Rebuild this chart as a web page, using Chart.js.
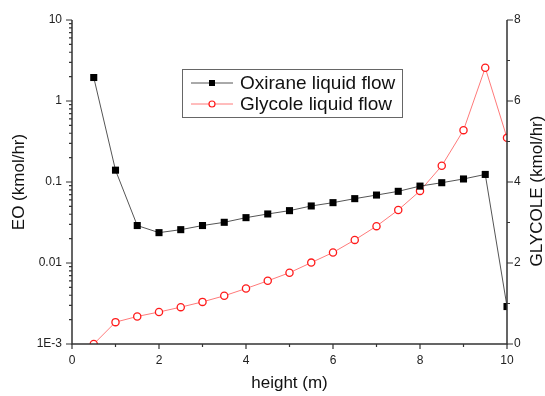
<!DOCTYPE html>
<html>
<head>
<meta charset="utf-8">
<script src="https://cdn.jsdelivr.net/npm/chart.js@4.4.1/dist/chart.umd.min.js"></script>
<style>
  html, body { margin: 0; padding: 0; background: #fff; }
  canvas { display: block; }
</style>
</head>
<body>
<canvas id="flowChart" width="545" height="396"></canvas>
<script>
const heights = [0.5, 1, 1.5, 2, 2.5, 3, 3.5, 4, 4.5, 5, 5.5, 6, 6.5, 7, 7.5, 8, 8.5, 9, 9.5, 10];
const oxirane = [1.95, 0.14, 0.029, 0.0237, 0.0258, 0.029, 0.0318, 0.0363, 0.0403, 0.0443,
  0.0506, 0.0556, 0.0623, 0.069, 0.0767, 0.089, 0.098, 0.109, 0.124, 0.0029];
const glycole = [0, 0.54, 0.68, 0.79, 0.91, 1.04, 1.19, 1.37, 1.56, 1.76,
  2.01, 2.26, 2.57, 2.91, 3.31, 3.78, 4.40, 5.28, 6.82, 5.09];

const xTicks = [0, 2, 4, 6, 8, 10];
const xMinor = [1, 3, 5, 7, 9];
const eoTicks = [0.001, 0.01, 0.1, 1, 10];
const eoLabels = ['1E-3', '0.01', '0.1', '1', '10'];
const glyTicks = [0, 2, 4, 6, 8];
const glyMinor = [1, 3, 5, 7];

const FONT = '"Liberation Sans", Arial, sans-serif';
const AXIS = '#333';

// minor ticks 2..9 inside each decade of the EO axis
const eoMinor = [];
for (let d = 0; d < eoTicks.length - 1; d++) {
  for (let m = 2; m <= 9; m++) eoMinor.push(eoTicks[d] * m);
}

function pts(ys) {
  return heights.map((h, i) => ({ x: h, y: ys[i] }));
}

const axesPlugin = {
  id: 'axesPlugin',
  afterDraw(chart) {
    const { ctx, chartArea: a } = chart;
    const sx = chart.scales.x, sy = chart.scales.y, sy2 = chart.scales.y2;
    ctx.save();
    ctx.strokeStyle = AXIS;
    ctx.lineWidth = 1.5;
    ctx.beginPath();
    ctx.moveTo(a.left, a.top); ctx.lineTo(a.left, a.bottom);
    ctx.lineTo(a.right, a.bottom); ctx.lineTo(a.right, a.top);
    ctx.stroke();

    ctx.lineWidth = 1.2;
    ctx.beginPath();
    xTicks.forEach(v => { const p = sx.getPixelForValue(v); ctx.moveTo(p, a.bottom); ctx.lineTo(p, a.bottom + 5); });
    xMinor.forEach(v => { const p = sx.getPixelForValue(v); ctx.moveTo(p, a.bottom); ctx.lineTo(p, a.bottom + 3); });
    eoTicks.forEach(v => { const p = sy.getPixelForValue(v); ctx.moveTo(a.left, p); ctx.lineTo(a.left - 6, p); });
    eoMinor.forEach(v => { const p = sy.getPixelForValue(v); ctx.moveTo(a.left, p); ctx.lineTo(a.left - 3, p); });
    glyTicks.forEach(v => { const p = sy2.getPixelForValue(v); ctx.moveTo(a.right, p); ctx.lineTo(a.right + 6, p); });
    glyMinor.forEach(v => { const p = sy2.getPixelForValue(v); ctx.moveTo(a.right, p); ctx.lineTo(a.right + 3, p); });
    ctx.stroke();

    // axis titles
    ctx.fillStyle = '#111';
    ctx.font = '17px ' + FONT;
    ctx.textAlign = 'center';
    ctx.textBaseline = 'middle';
    ctx.fillText('height (m)', (a.left + a.right) / 2, 383);
    ctx.save();
    ctx.translate(19, (a.top + a.bottom) / 2);
    ctx.rotate(-Math.PI / 2);
    ctx.fillText('EO (kmol/hr)', 0, 0);
    ctx.restore();
    ctx.save();
    ctx.translate(537, 191);
    ctx.rotate(-Math.PI / 2);
    ctx.fillText('GLYCOLE (kmol/hr)', 0, 0);
    ctx.restore();

    // legend box
    const bx = 182, by = 69, bw = 220, bh = 48;
    ctx.fillStyle = '#fff';
    ctx.fillRect(bx, by, bw, bh);
    ctx.strokeStyle = '#666';
    ctx.lineWidth = 1;
    ctx.strokeRect(bx + 0.5, by + 0.5, bw, bh);
    const rows = [83, 104];
    chart.data.datasets.forEach((ds, i) => {
      const y = rows[i];
      ctx.strokeStyle = ds.borderColor;
      ctx.lineWidth = 1;
      ctx.beginPath();
      ctx.moveTo(191, y); ctx.lineTo(233, y);
      ctx.stroke();
      if (ds.pointStyle === 'rect') {
        ctx.fillStyle = ds.pointBackgroundColor;
        ctx.fillRect(209, y - 3, 6, 6);
      } else {
        ctx.fillStyle = '#fff';
        ctx.strokeStyle = ds.pointBorderColor;
        ctx.lineWidth = 1.2;
        ctx.beginPath();
        ctx.arc(212, y, 3, 0, Math.PI * 2);
        ctx.fill(); ctx.stroke();
      }
      ctx.fillStyle = '#111';
      ctx.font = '19px ' + FONT;
      ctx.textAlign = 'left';
      ctx.fillText(ds.label, 240, y + 1);
    });
    ctx.restore();
  }
};

new Chart(document.getElementById('flowChart'), {
  type: 'line',
  data: {
    datasets: [
      {
        label: 'Oxirane liquid flow',
        data: pts(oxirane),
        yAxisID: 'y',
        borderColor: '#555',
        borderWidth: 1,
        pointStyle: 'rect',
        pointRadius: 5,
        pointBackgroundColor: '#000',
        pointBorderColor: '#000',
        pointBorderWidth: 0
      },
      {
        label: 'Glycole liquid flow',
        data: pts(glycole),
        yAxisID: 'y2',
        borderColor: '#ff7a7a',
        borderWidth: 1,
        pointStyle: 'circle',
        pointRadius: 3.6,
        pointBackgroundColor: '#fff',
        pointBorderColor: '#ff1a1a',
        pointBorderWidth: 1.3
      }
    ]
  },
  options: {
    responsive: false,
    animation: false,
    devicePixelRatio: 1,
    layout: { padding: { top: 20, left: 0, right: 0, bottom: 0 } },
    plugins: { legend: { display: false }, tooltip: { enabled: false } },
    scales: {
      x: {
        type: 'linear',
        min: 0, max: 10,
        grid: { display: false, drawTicks: false },
        border: { display: false },
        afterBuildTicks: s => { s.ticks = xTicks.map(v => ({ value: v })); },
        afterFit: s => { s.height = 52; },
        ticks: { padding: 9, color: '#222', font: { family: FONT, size: 12 }, maxRotation: 0, autoSkip: false }
      },
      y: {
        type: 'logarithmic',
        position: 'left',
        min: 0.001, max: 10,
        grid: { display: false, drawTicks: false },
        border: { display: false },
        afterBuildTicks: s => { s.ticks = eoTicks.map(v => ({ value: v })); },
        afterFit: s => { s.width = 72; },
        ticks: {
          padding: 10, color: '#222', font: { family: FONT, size: 12 }, autoSkip: false,
          callback: v => { const i = eoTicks.indexOf(v); return i >= 0 ? eoLabels[i] : ''; }
        }
      },
      y2: {
        type: 'linear',
        position: 'right',
        min: 0, max: 8,
        grid: { display: false, drawTicks: false },
        border: { display: false },
        afterBuildTicks: s => { s.ticks = glyTicks.map(v => ({ value: v })); },
        afterFit: s => { s.width = 38; },
        ticks: { padding: 7, color: '#222', font: { family: FONT, size: 12 }, autoSkip: false }
      }
    }
  },
  plugins: [axesPlugin]
});
</script>
</body>
</html>
